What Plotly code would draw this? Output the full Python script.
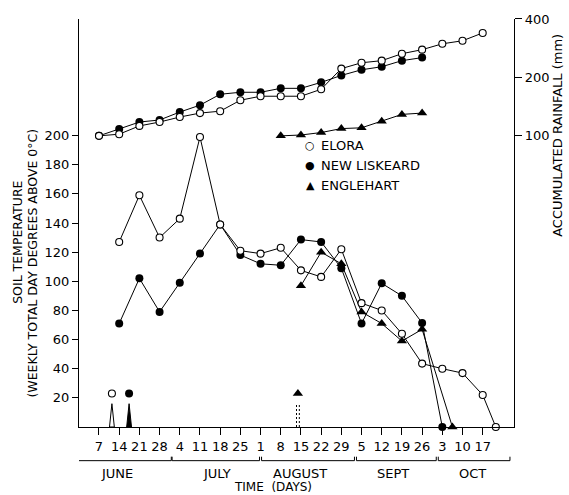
import plotly.graph_objects as go

# ---------------- data ----------------
week_labels = ["7", "14", "21", "28", "4", "11", "18", "25", "1", "8", "15", "22", "29",
               "5", "12", "19", "26", "3", "10", "17"]
week_idx = list(range(len(week_labels)))

# Soil temperature (weekly total day degrees above 0 C), x = week index
elora_t_x = [1, 2, 3, 4, 5, 6, 7, 8, 9, 10, 11, 12, 13, 14, 15, 16, 17, 18, 19, 19.65]
elora_t_y = [127, 159, 130, 143, 199, 139, 121, 119, 123, 107.5, 103, 122, 85, 80, 64, 43.5, 40, 37, 22, 0]

nl_t_x = [1, 2, 3, 4, 5, 6, 7, 8, 9, 10, 11, 12, 13, 14, 15, 16, 17]
nl_t_y = [71, 102, 79, 99, 119, 139, 118, 112, 111, 128.6, 127, 109, 71, 98.6, 90, 71.4, 0]

eng_t_x = [10, 11, 12, 13, 14, 15, 16, 17.5]
eng_t_y = [97, 120, 112, 79, 71, 59, 67, 0]

# Isolated events near the axis (one per station)
event_x = [0.64, 1.49, 9.85]
event_y = [23, 23, 23]

# Accumulated rainfall (mm)
elora_r_x = list(range(0, 20))
elora_r_y = [100, 102, 112.5, 117.8, 125, 131, 134, 152.6, 160, 160, 160, 173.8, 222,
             238, 244, 265, 278, 298, 309, 339]

nl_r_x = list(range(0, 17))
nl_r_y = [100, 108.6, 117.8, 120.7, 132.6, 143.9, 163.8, 167.7, 167.7, 175.7, 175.7, 188.6,
          204.8, 219, 227, 244, 253]

eng_r_x = [9, 10, 11, 12, 13, 14, 15, 16]
eng_r_y = [100, 101, 104, 109, 110, 119, 129, 131]

months = ["JUNE", "JULY", "AUGUST", "SEPT", "OCT"]
month_start = [-1.0, 3.62, 8.05, 12.75, 16.8]
month_end = [3.58, 7.95, 12.65, 16.7, 20.35]
month_label_x = [0.9, 5.85, 9.95, 14.55, 18.5]

# ---------------- style ----------------
BLK = "black"
FONT = "DejaVu Sans"
open_marker = dict(symbol="circle", size=7, color="white", line=dict(color=BLK, width=1.1))
fill_marker = dict(symbol="circle", size=8, color=BLK, line=dict(color=BLK, width=0))
tri_marker = dict(symbol="triangle-up", size=9, color=BLK, line=dict(color=BLK, width=0))

fig = go.Figure()

# rainfall (right log axis)
for xs, ys, mk in [(nl_r_x, nl_r_y, fill_marker), (elora_r_x, elora_r_y, open_marker),
                   (eng_r_x, eng_r_y, tri_marker)]:
    fig.add_trace(go.Scatter(x=xs, y=ys, yaxis="y2", mode="lines+markers",
                             line=dict(color=BLK, width=1), marker=mk,
                             showlegend=False, cliponaxis=False))

# temperature (left axis)
for xs, ys, mk in [(nl_t_x, nl_t_y, fill_marker), (eng_t_x, eng_t_y, tri_marker),
                   (elora_t_x, elora_t_y, open_marker)]:
    fig.add_trace(go.Scatter(x=xs, y=ys, mode="lines+markers",
                             line=dict(color=BLK, width=1), marker=mk,
                             showlegend=False, cliponaxis=False))

# events: wedge below marker
apex_gap = 7
half_w = 0.12
ex, ey = event_x[0], event_y[0]
fig.add_trace(go.Scatter(x=[ex - half_w, ex, ex + half_w, ex - half_w], y=[0, ey - apex_gap, 0, 0],
                         mode="lines", line=dict(color=BLK, width=1), showlegend=False,
                         cliponaxis=False))
ex, ey = event_x[1], event_y[1]
fig.add_trace(go.Scatter(x=[ex - half_w, ex, ex + half_w, ex - half_w], y=[0, ey - apex_gap, 0, 0],
                         mode="lines", fill="toself", fillcolor=BLK,
                         line=dict(color=BLK, width=1), showlegend=False, cliponaxis=False))
ex, ey = event_x[2], event_y[2]
for dx in (-0.07, 0.07):
    fig.add_trace(go.Scatter(x=[ex + dx, ex + dx], y=[0, ey - apex_gap], mode="lines",
                             line=dict(color=BLK, width=1, dash="2px,2px"),
                             showlegend=False, cliponaxis=False))
for xs, ys, mk in [([event_x[0]], [event_y[0]], open_marker),
                   ([event_x[1]], [event_y[1]], fill_marker),
                   ([event_x[2]], [event_y[2]], tri_marker)]:
    fig.add_trace(go.Scatter(x=xs, y=ys, mode="markers", marker=mk, showlegend=False,
                             cliponaxis=False))

# ---------------- layout ----------------
W, H = 569, 495
L, R, T, B = 79, 55, 15, 68
pw, ph = W - L - R, H - T - B


def px_x(p):
    return (p - L) / pw


def px_y(p):
    return (H - B - p) / ph


annotations = []
leg_names = ["ELORA", "NEW LISKEARD", "ENGLEHART"]
leg_syms = ["○", "●", "▲"]
leg_y = [143, 163, 183]
for name, sym, yy in zip(leg_names, leg_syms, leg_y):
    annotations.append(dict(text=sym, x=px_x(310), y=px_y(yy), xref="paper", yref="paper",
                            xanchor="center", yanchor="middle", showarrow=False,
                            font=dict(family=FONT, size=11, color=BLK)))
    annotations.append(dict(text=name, x=px_x(319), y=px_y(yy), xref="paper", yref="paper",
                            xanchor="left", yanchor="middle", showarrow=False,
                            font=dict(family=FONT, size=13, color=BLK)))

for m, mx in zip(months, month_label_x):
    annotations.append(dict(text=m, x=mx, y=px_y(474), xref="x", yref="paper",
                            xanchor="center", yanchor="middle", showarrow=False,
                            font=dict(family=FONT, size=13, color=BLK)))
annotations.append(dict(text="TIME  (DAYS)", x=px_x(273), y=px_y(479), xref="paper", yref="paper",
                        xanchor="center", yanchor="top", showarrow=False,
                        font=dict(family=FONT, size=12, color=BLK)))
annotations.append(dict(text="SOIL TEMPERATURE", x=px_x(18), y=px_y(240), xref="paper",
                        yref="paper", xanchor="center", yanchor="middle", textangle=-90,
                        showarrow=False, font=dict(family=FONT, size=12.5, color=BLK)))
annotations.append(dict(text="(WEEKLY TOTAL DAY DEGREES ABOVE 0°C)", x=px_x(33), y=px_y(262),
                        xref="paper", yref="paper", xanchor="center", yanchor="middle",
                        textangle=-90, showarrow=False,
                        font=dict(family=FONT, size=12.5, color=BLK)))
annotations.append(dict(text="ACCUMULATED RAINFALL (mm)", x=px_x(558), y=px_y(133),
                        xref="paper", yref="paper", xanchor="center", yanchor="middle",
                        textangle=-90, showarrow=False,
                        font=dict(family=FONT, size=13, color=BLK)))

shapes = []
yb = px_y(461)
yt = px_y(457)
for s, e in zip(month_start, month_end):
    shapes.append(dict(type="line", xref="x", yref="paper", x0=s, x1=e, y0=yb, y1=yb,
                       line=dict(color=BLK, width=1)))
    for xe in (s, e):
        if xe > -0.9:
            shapes.append(dict(type="line", xref="x", yref="paper", x0=xe, x1=xe, y0=yb, y1=yt,
                               line=dict(color=BLK, width=1)))

fig.update_layout(
    width=W, height=H,
    margin=dict(l=L, r=R, t=T, b=B, pad=0),
    paper_bgcolor="white", plot_bgcolor="white",
    font=dict(family=FONT, size=13, color=BLK),
    showlegend=False,
    xaxis=dict(range=[-0.99, 20.55], tickmode="array", tickvals=week_idx, ticktext=week_labels,
               ticks="outside", ticklen=7, tickwidth=1, tickcolor=BLK, showline=True,
               linecolor=BLK, linewidth=1.3, showgrid=False, zeroline=False,
               tickfont=dict(family=FONT, size=13, color=BLK)),
    yaxis=dict(range=[0, 280], tickmode="array", tickvals=list(range(20, 220, 20)),
               ticks="outside", ticklen=6, tickwidth=1.2, tickcolor=BLK, showline=True,
               linecolor=BLK, linewidth=1.3, showgrid=False, zeroline=False,
               tickfont=dict(family=FONT, size=13, color=BLK)),
    yaxis2=dict(type="log", range=[0.5, 2.602], overlaying="y", side="right",
                tickmode="array", tickvals=[100, 200, 400], ticktext=["100", "200", "400"],
                ticks="outside", ticklen=7, tickwidth=1.2, tickcolor=BLK, showline=True,
                linecolor=BLK, linewidth=1.3, showgrid=False, zeroline=False,
                tickfont=dict(family=FONT, size=13, color=BLK)),
    annotations=annotations,
    shapes=shapes,
)

fig.write_html("out.html")
